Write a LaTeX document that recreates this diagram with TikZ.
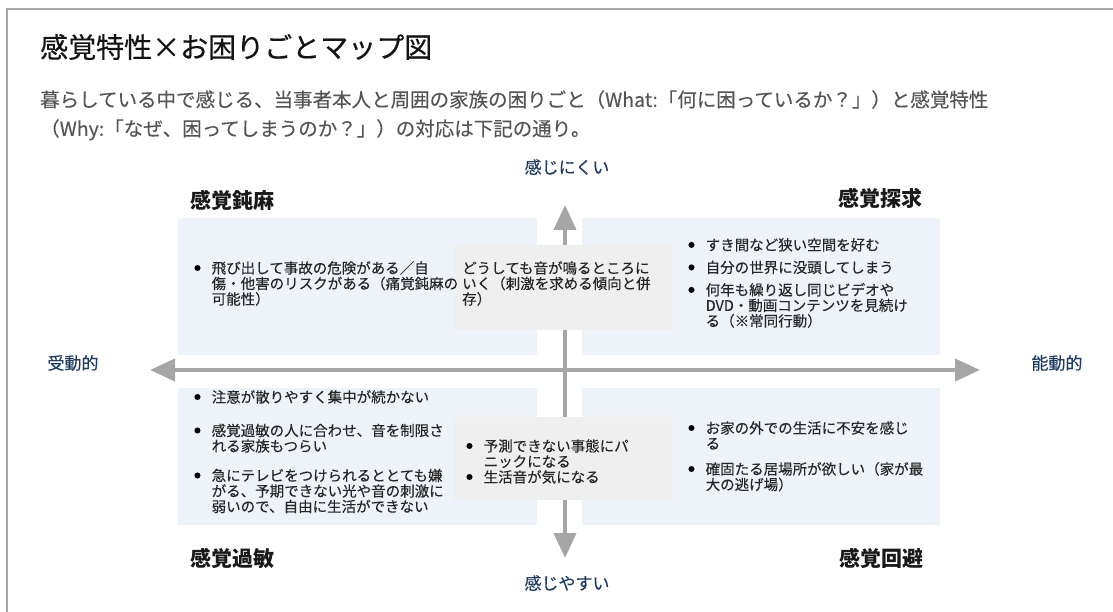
\documentclass[tikz,border=0pt]{standalone}
\usepackage{fontspec}
\setmainfont{Noto Sans CJK JP}
\newfontfamily\heavyfont[FakeBold=0.5]{Noto Sans CJK JP}
\newfontfamily\softfont[FakeBold=0.25]{Noto Sans CJK JP}
\usetikzlibrary{arrows.meta}
\definecolor{axisgray}{HTML}{A6A6A6}
\definecolor{framegray}{HTML}{A8A8A8}
\definecolor{quadblue}{HTML}{EEF3FA}
\definecolor{midgray}{HTML}{EFEFEF}
\definecolor{labelblue}{HTML}{1F3D63}
\definecolor{subgray}{HTML}{555555}
\definecolor{bodytext}{HTML}{262626}
\newcommand\bul{\makebox[17.5pt][l]{\raisebox{3pt}{\fontsize{6.5}{6.5}\selectfont\color{black}●}}}
\newcommand\ind{\hspace*{17.5pt}}

\tikzset{
  quad/.style={fill=quadblue},
  mid/.style={fill=midgray},
  axis/.style={draw=axisgray, line width=4pt,
    {Triangle[width=22pt,length=25pt]}-{Triangle[width=22pt,length=25pt]}},
  pole/.style={text=labelblue, inner sep=0pt, font=\softfont\fontsize{17}{20}\selectfont},
  kind/.style={inner sep=0pt, text=black!90, font=\fontsize{21}{24}\selectfont\bfseries},
  item/.style={align=left, anchor=north west, inner sep=0pt, text=bodytext,
    font=\softfont\fontsize{14.5}{15.5}\selectfont},
}

\begin{document}
\begin{tikzpicture}[x=1pt,y=-1pt]
  \useasboundingbox (0,0) rectangle (1113,612);
  \draw[framegray, line width=2pt] (1120,9) -- (7,9) -- (7,620);

  \node[anchor=west, inner sep=0pt, text=black!92, font=\heavyfont\fontsize{28}{32}\selectfont] (title) at (40,47)
    {感覚特性×お困りごとマップ図};
  \node[anchor=north west, align=left, inner sep=0pt, text=subgray,
    font=\softfont\fontsize{19.5}{29}\selectfont] (lead) at (40,90)
    {暮らしている中で感じる、当事者本人と周囲の家族の困りごと（What:「何に困っているか？」）と感覚特性\\
     （Why:「なぜ、困ってしまうのか？」）の対応は下記の通り。};

  \fill[quad] (178,218) rectangle (537,355);
  \fill[quad] (582,218) rectangle (940,355);
  \fill[quad] (178,388) rectangle (537,525);
  \fill[quad] (582,388) rectangle (940,525);

  \coordinate (west) at (150,370);
  \coordinate (east) at (980,370);
  \coordinate (north) at (565,205);
  \coordinate (south) at (565,558);
  \draw[axis] (west) -- (east);
  \draw[axis] (south) -- (north);

  \fill[mid] (453,245) rectangle (672,330);
  \fill[mid] (453,417) rectangle (672,500);

  \node[pole] (less) at (567,167) {感じにくい};
  \node[pole] (more) at (567,583) {感じやすい};
  \node[pole] (passive) at (73,363) {受動的};
  \node[pole] (active) at (1057,363) {能動的};

  \node[kind, anchor=west] (dull) at (190,200) {感覚鈍麻};
  \node[kind, anchor=east] (seek) at (923,198) {感覚探求};
  \node[kind, anchor=west] (over) at (190,558) {感覚過敏};
  \node[kind, anchor=east] (avoid) at (924,558) {感覚回避};

  \node[item] (dullText) at (194,261)
    {\bul 飛び出して事故の危険がある／自\\
     \ind 傷・他害のリスクがある（痛覚鈍麻の\\
     \ind 可能性）};
  \node[item] (upMid) at (462,261)
    {どうしても音が鳴るところに\\
     いく（刺激を求める傾向と併\\
     存）};
  \node[item] (seekText) at (688,238)
    {\bul すき間など狭い空間を好む\\[7pt]
     \bul 自分の世界に没頭してしまう\\[7pt]
     \bul 何年も繰り返し同じビデオや\\
     \ind DVD・動画コンテンツを見続け\\
     \ind る（※常同行動）};
  \node[item] (overText) at (194,390)
    {\bul 注意が散りやすく集中が続かない\\[18pt]
     \bul 感覚過敏の人に合わせ、音を制限さ\\
     \ind れる家族もつらい\\[14pt]
     \bul 急にテレビをつけられるととても嫌\\
     \ind がる、予期できない光や音の刺激に\\
     \ind 弱いので、自由に生活ができない};
  \node[item] (downMid) at (466,439)
    {\bul 予測できない事態にパ\\
     \ind ニックになる\\
     \bul 生活音が気になる};
  \node[item] (avoidText) at (688,421)
    {\bul お家の外での生活に不安を感じ\\
     \ind る\\[10pt]
     \bul 確固たる居場所が欲しい（家が最\\
     \ind 大の逃げ場）};
\end{tikzpicture}
\end{document}
